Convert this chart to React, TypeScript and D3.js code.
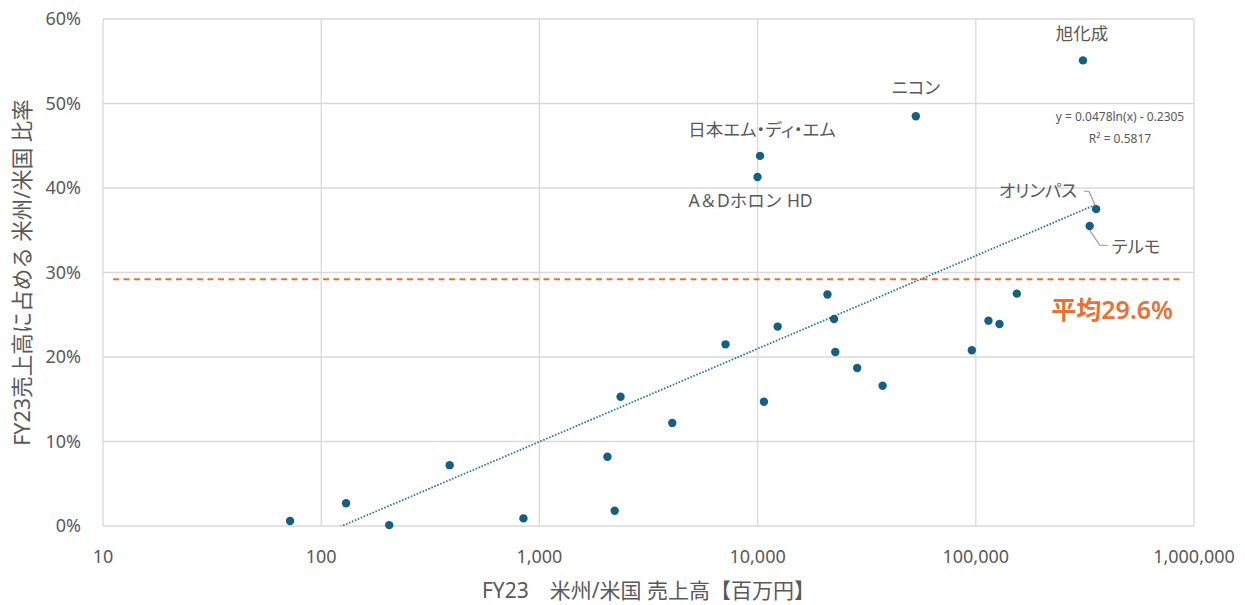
import React, { useEffect, useRef } from 'react';
import * as d3 from 'd3';

// FY23 米州/米国 売上高【百万円】 and share of total sales
const salesValues = [
  72, 130, 205, 388, 845, 2050, 2213, 2355, 4064, 7129, 10690, 12360, 10260, 9990,
  20900, 22400, 22700, 28600, 37400, 53100, 95900, 114300, 128400, 154200, 309800,
  356000, 332600,
];
const shareValues = [
  0.006, 0.027, 0.001, 0.072, 0.009, 0.082, 0.018, 0.153, 0.122, 0.215, 0.147, 0.236,
  0.438, 0.413, 0.274, 0.245, 0.206, 0.187, 0.166, 0.485, 0.208, 0.243, 0.239, 0.275,
  0.551, 0.375, 0.355,
];
const pointNames = [
  '', '', '', '', '', '', '', '', '', '', '', '', '日本エム・ディ・エム', 'A＆Dホロン HD',
  '', '', '', '', '', 'ニコン', '', '', '', '', '旭化成', 'オリンパス', 'テルモ',
];

const xTicks = [10, 100, 1000, 10000, 100000, 1000000];
const yTicks = [0, 0.1, 0.2, 0.3, 0.4, 0.5, 0.6];

// trendline y = 0.0478ln(x) - 0.2305
const trendSlope = 0.0478;
const trendIntercept = -0.2305;
const trendText = ['y = 0.0478ln(x) - 0.2305', 'R² = 0.5817'];

const averageShare = 0.292;
const averageLabel = '平均29.6%';

const W = 1245;
const H = 605;
const M = { left: 103, right: 51, top: 19, bottom: 79 };
const BLUE = '#156082';
const ORANGE = '#E97132';
const GRID = '#D9D9D9';
const TEXT = '#595959';
const FONT = '"Noto Sans", "Noto Sans CJK JP", sans-serif';

const App = () => {
  const svgRef = useRef<SVGSVGElement>(null);

  useEffect(() => {
    const svg = d3.select(svgRef.current);
    svg.selectAll('*').remove();

    const x = d3.scaleLog().domain([10, 1000000]).range([M.left, W - M.right]);
    const y = d3.scaleLinear().domain([0, 0.6]).range([H - M.bottom, M.top]);

    const g = svg.append('g').style('font-family', FONT);

    // gridlines
    g.selectAll('.hgrid')
      .data(yTicks)
      .enter()
      .append('line')
      .attr('x1', M.left)
      .attr('x2', W - M.right)
      .attr('y1', (d) => y(d))
      .attr('y2', (d) => y(d))
      .attr('stroke', GRID)
      .attr('stroke-width', 1.3);
    g.selectAll('.vgrid')
      .data(xTicks)
      .enter()
      .append('line')
      .attr('x1', (d) => x(d))
      .attr('x2', (d) => x(d))
      .attr('y1', M.top)
      .attr('y2', H - M.bottom)
      .attr('stroke', GRID)
      .attr('stroke-width', 1.3);

    // tick labels
    g.selectAll('.ytick')
      .data(yTicks)
      .enter()
      .append('text')
      .attr('x', M.left - 22)
      .attr('y', (d) => y(d))
      .attr('dy', '0.35em')
      .attr('text-anchor', 'end')
      .attr('fill', TEXT)
      .style('font-size', '18px')
      .text((d) => d3.format('.0%')(d));
    g.selectAll('.xtick')
      .data(xTicks)
      .enter()
      .append('text')
      .attr('x', (d) => x(d))
      .attr('y', H - M.bottom + 31)
      .attr('dy', '0.35em')
      .attr('text-anchor', 'middle')
      .attr('fill', TEXT)
      .style('font-size', '18px')
      .text((d) => d3.format(',')(d));

    // axis titles
    g.append('text')
      .attr('x', (M.left + W - M.right) / 2)
      .attr('y', 591)
      .attr('dy', '0.35em')
      .attr('text-anchor', 'middle')
      .attr('fill', TEXT)
      .style('font-size', '21px')
      .text('FY23　米州/米国 売上高【百万円】');
    g.append('text')
      .attr('transform', `translate(22,${(M.top + H - M.bottom) / 2}) rotate(-90)`)
      .attr('dy', '0.35em')
      .attr('text-anchor', 'middle')
      .attr('fill', TEXT)
      .style('font-size', '21.5px')
      .text('FY23売上高に占める 米州/米国 比率');

    // average line
    g.append('line')
      .attr('x1', M.left + 10)
      .attr('x2', W - M.right - 11)
      .attr('y1', y(averageShare))
      .attr('y2', y(averageShare))
      .attr('stroke', ORANGE)
      .attr('stroke-width', 2)
      .attr('stroke-dasharray', '6 4.5');
    g.append('text')
      .attr('x', 1173)
      .attr('y', 310)
      .attr('dy', '0.35em')
      .attr('text-anchor', 'end')
      .attr('fill', ORANGE)
      .style('font-size', '25px')
      .style('font-weight', 600)
      .text(averageLabel);

    // trendline, clipped to the plot area
    svg
      .append('clipPath')
      .attr('id', 'plotclip')
      .append('rect')
      .attr('x', M.left)
      .attr('y', M.top)
      .attr('width', W - M.left - M.right)
      .attr('height', H - M.top - M.bottom);
    const [xMin, xMax] = d3.extent(salesValues) as [number, number];
    const trendXs = d3.range(0, 101).map((i) => xMin * Math.pow(xMax / xMin, i / 100));
    const line = d3
      .line<number>()
      .x((d) => x(d))
      .y((d) => y(trendSlope * Math.log(d) + trendIntercept));
    g.append('path')
      .attr('clip-path', 'url(#plotclip)')
      .attr('d', line(trendXs))
      .attr('fill', 'none')
      .attr('stroke', '#2F75A0')
      .attr('stroke-width', 1.8)
      .attr('stroke-dasharray', '1.6 1.6');

    g.selectAll('.eq')
      .data(trendText)
      .enter()
      .append('text')
      .attr('x', 1120)
      .attr('y', (d, i) => 117 + i * 22)
      .attr('dy', '0.35em')
      .attr('text-anchor', 'middle')
      .attr('fill', TEXT)
      .style('font-size', '12px')
      .text((d) => d);

    // points
    g.selectAll('.dot')
      .data(salesValues)
      .enter()
      .append('circle')
      .attr('cx', (d) => x(d))
      .attr('cy', (d, i) => y(shareValues[i]))
      .attr('r', 4.2)
      .attr('fill', BLUE);

    // labels
    const labelPos: Record<string, { dx: number; dy: number; anchor: string; palt: boolean }> = {
      '旭化成': { dx: -1, dy: -27, anchor: 'middle', palt: true },
      'ニコン': { dx: 0, dy: -28, anchor: 'middle', palt: true },
      '日本エム・ディ・エム': { dx: 2, dy: -26, anchor: 'middle', palt: true },
      'A＆Dホロン HD': { dx: -7, dy: 24, anchor: 'middle', palt: false },
      'オリンパス': { dx: -19, dy: -18, anchor: 'end', palt: true },
      'テルモ': { dx: 22, dy: 21, anchor: 'start', palt: true },
    };
    const named = salesValues
      .map((v, i) => ({ v, s: shareValues[i], name: pointNames[i] }))
      .filter((d) => d.name);
    g.selectAll('.lbl')
      .data(named)
      .enter()
      .append('text')
      .attr('x', (d) => x(d.v) + labelPos[d.name].dx)
      .attr('y', (d) => y(d.s) + labelPos[d.name].dy)
      .attr('dy', '0.35em')
      .attr('text-anchor', (d) => labelPos[d.name].anchor)
      .attr('fill', TEXT)
      .style('font-size', '17.5px')
      .style('font-feature-settings', (d) => (labelPos[d.name].palt ? '"palt"' : 'normal'))
      .text((d) => d.name);

    // leader lines for オリンパス / テルモ
    const leader = named.filter((d) => d.name === 'オリンパス' || d.name === 'テルモ');
    g.selectAll('.leader')
      .data(leader)
      .enter()
      .append('polyline')
      .attr('points', (d) => {
        const px = x(d.v);
        const py = y(d.s);
        if (d.name === 'オリンパス') {
          return `${px - 12},${py - 18} ${px - 7},${py - 17.5} ${px - 1},${py - 4}`;
        }
        return `${px},${py + 4} ${px + 10},${py + 19} ${px + 18},${py + 19.5}`;
      })
      .attr('fill', 'none')
      .attr('stroke', '#A6A6A6')
      .attr('stroke-width', 1.3);
  }, []);

  return (
    <svg
      ref={svgRef}
      width={W}
      height={H}
      style={{ position: 'absolute', left: 0, top: 0, background: '#fff' }}
    />
  );
};

export default App;
